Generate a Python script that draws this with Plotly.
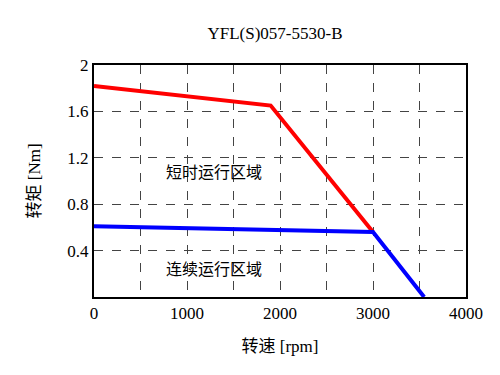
import plotly.graph_objects as go

# Data
peak_speed = [0, 1900, 3000]
peak_torque = [1.82, 1.65, 0.56]
cont_speed = [0, 3000, 3550]
cont_torque = [0.61, 0.56, 0.0]
x_ticks = [0, 1000, 2000, 3000, 4000]
y_ticks = [0.4, 0.8, 1.2, 1.6, 2]
y_tick_labels = ["0.4", "0.8", "1.2", "1.6", "2"]
region_labels = ["短时运行区域", "连续运行区域"]
region_x = [1290, 1290]
region_y = [1.07, 0.24]

FONT = "Liberation Serif, Noto Sans CJK SC, serif"

fig = go.Figure()
fig.add_trace(go.Scatter(x=peak_speed, y=peak_torque, mode="lines",
                         line=dict(color="#ff0000", width=4), showlegend=False))
fig.add_trace(go.Scatter(x=cont_speed, y=cont_torque, mode="lines",
                         line=dict(color="#0000ff", width=4), showlegend=False))

for t, xx, yy in zip(region_labels, region_x, region_y):
    fig.add_annotation(x=xx, y=yy, text=t, showarrow=False,
                       font=dict(size=16, color="black", family=FONT))

fig.update_layout(
    width=500, height=375,
    margin=dict(l=86, r=42, t=57, b=86),
    paper_bgcolor="white", plot_bgcolor="white",
    title=dict(text="YFL(S)057-5530-B", x=0.534, xanchor="center", y=0.933, yanchor="middle",
               font=dict(size=17, color="black", family=FONT)),
    font=dict(family=FONT, color="black", size=16),
)
fig.update_xaxes(range=[0, 4000], tickvals=x_ticks, ticktext=[str(v) for v in x_ticks],
                 showline=True, linecolor="black", linewidth=2, mirror=True,
                 showgrid=True, gridcolor="#444444", griddash="dash", gridwidth=1,
                 ticks="", zeroline=False,
                 minor=dict(dtick=500, tick0=0, showgrid=True, gridcolor="#444444", griddash="dash"),
                 title=dict(text="转速 [rpm]", font=dict(size=17, family=FONT), standoff=18),
                 tickfont=dict(size=17, family=FONT))
fig.update_yaxes(range=[0, 2], tickvals=y_ticks, ticktext=y_tick_labels,
                 showline=True, linecolor="black", linewidth=2, mirror=True,
                 showgrid=True, gridcolor="#444444", griddash="dash", gridwidth=1,
                 ticks="", zeroline=False,
                 title=dict(text="转矩 [Nm]", font=dict(size=17, family=FONT), standoff=22),
                 tickfont=dict(size=17, family=FONT))

fig.write_html("out.html")
